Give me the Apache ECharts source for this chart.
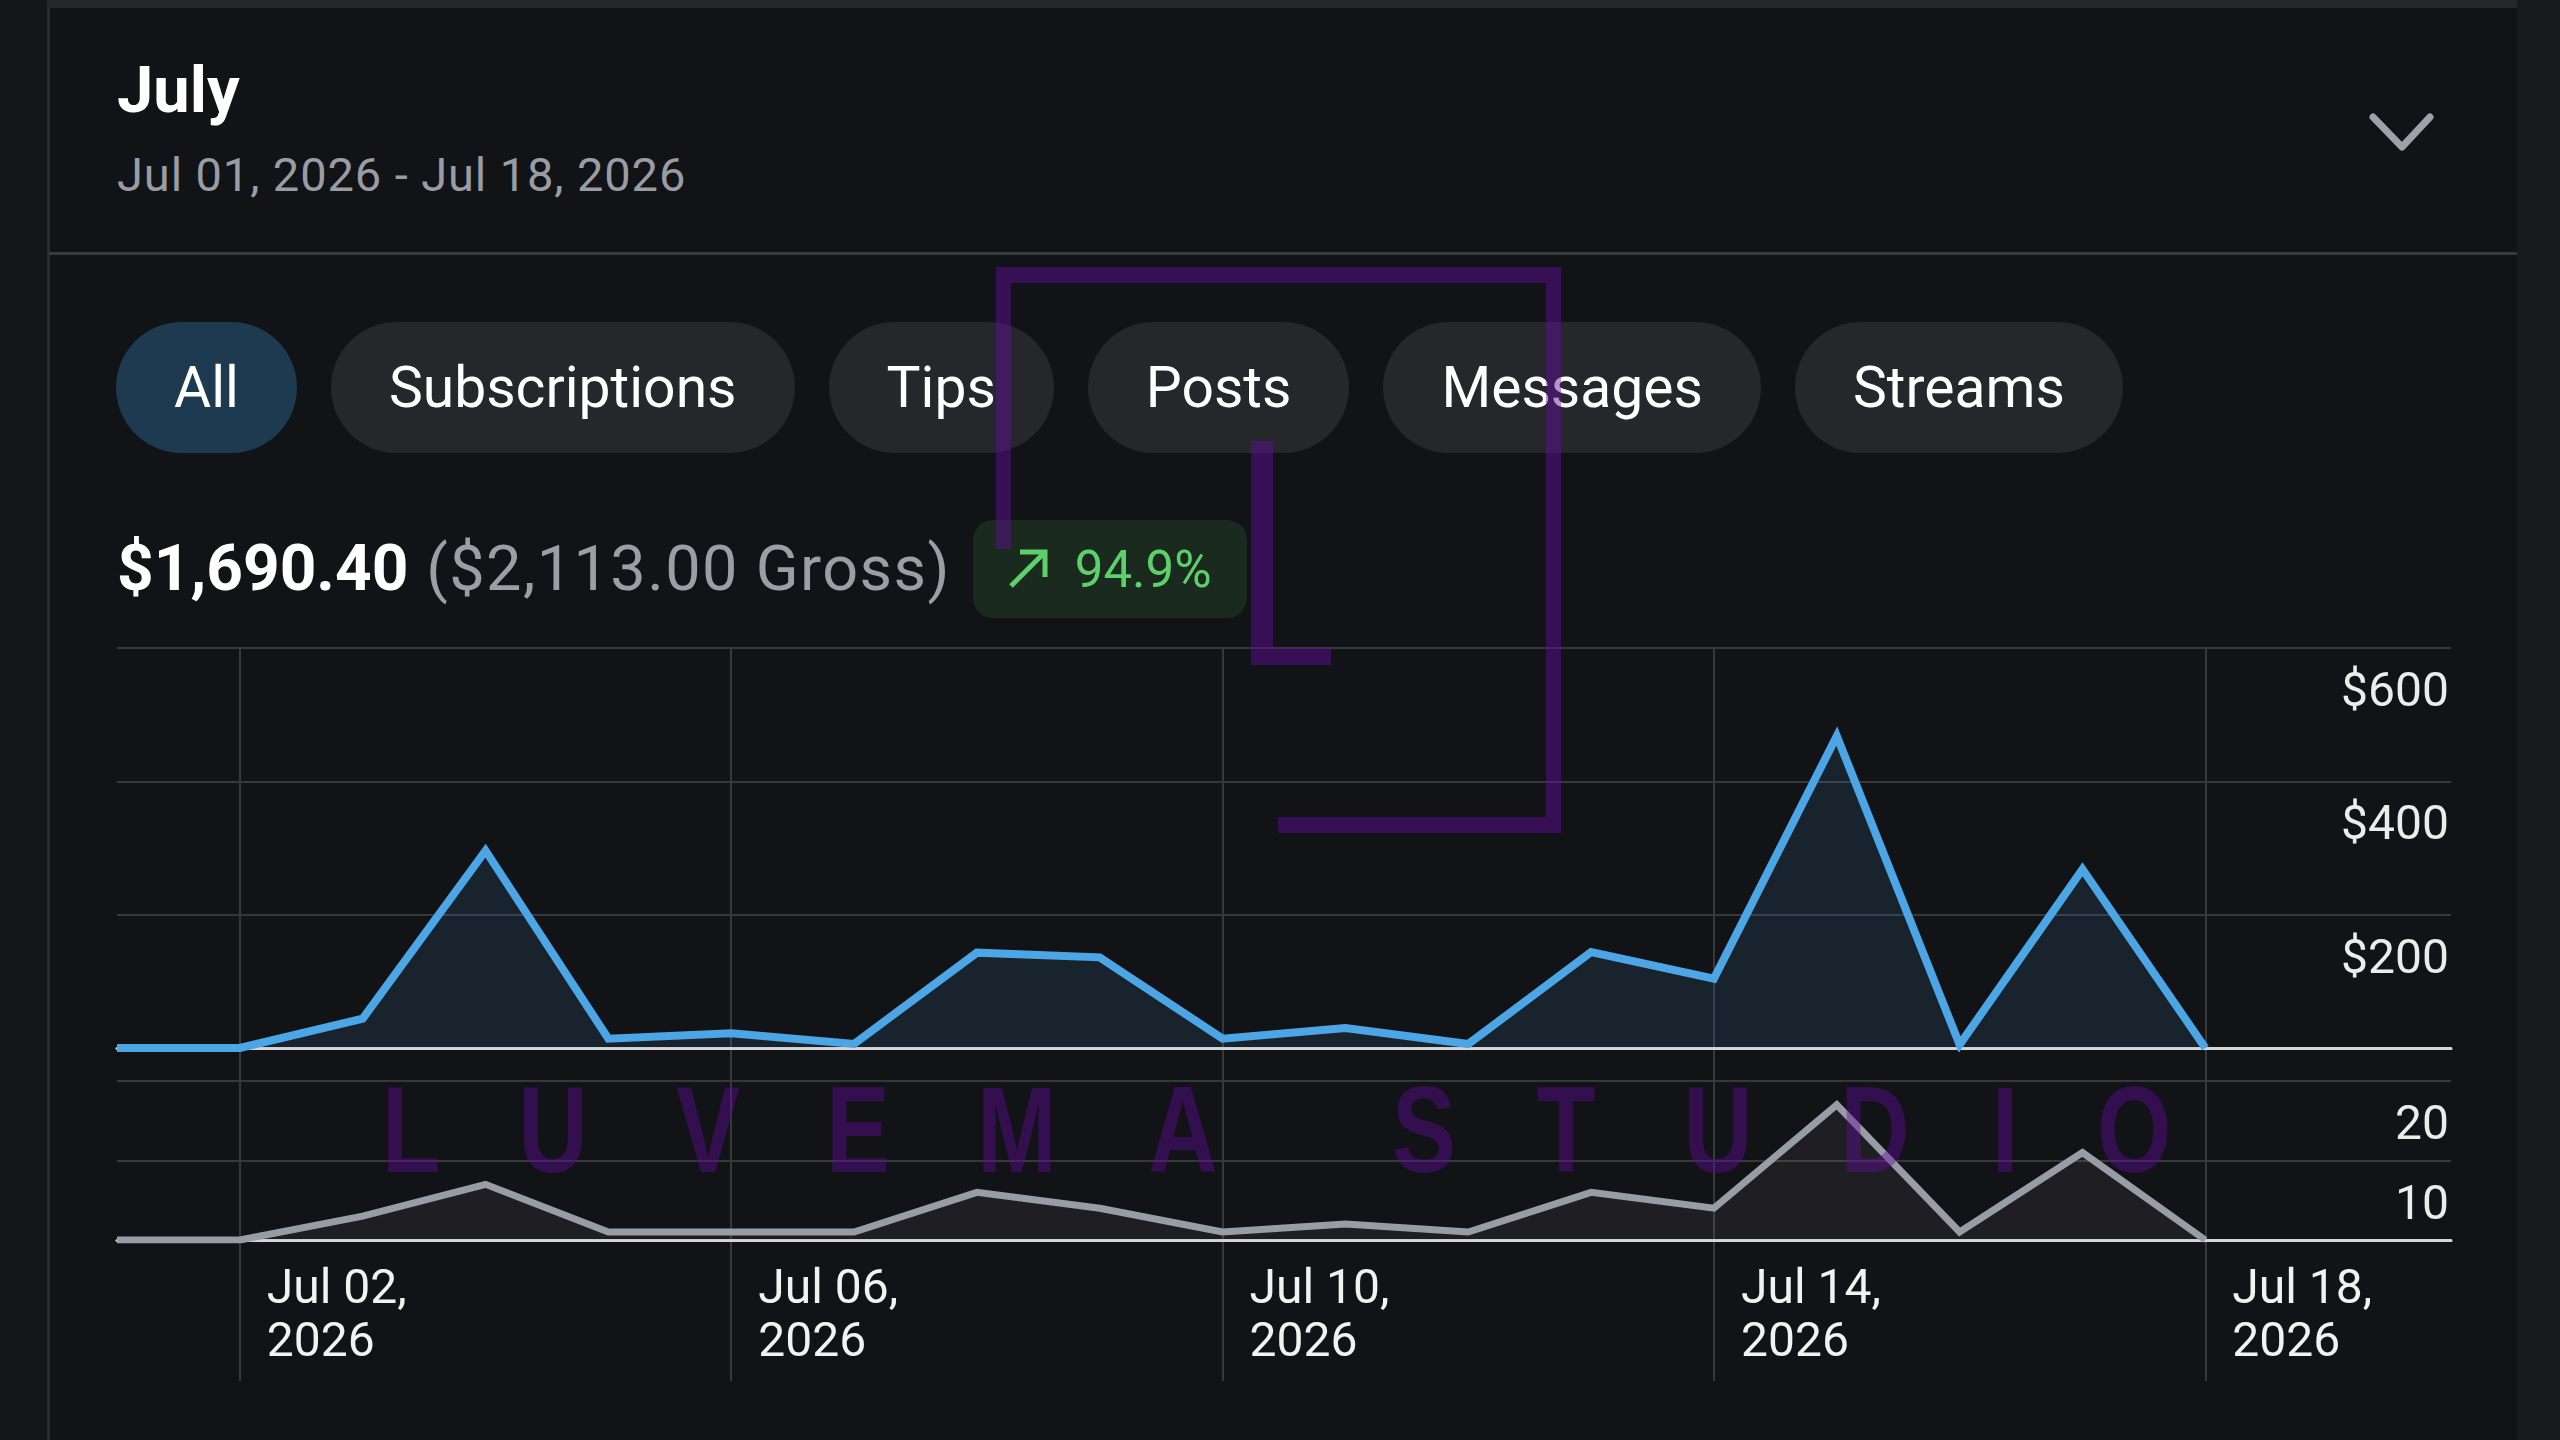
<!DOCTYPE html>
<html>
<head>
<meta charset="utf-8">
<script src="https://cdn.jsdelivr.net/npm/echarts@6/dist/echarts.min.js"></script>
<style>
  html, body { margin: 0; padding: 0; background: #121316; }
  #page { position: relative; width: 2560px; height: 1440px; overflow: hidden; background: #121316; font-family: Roboto, "Noto Sans", sans-serif; }
  .strip-top { position: absolute; left: 0; top: 0; width: 2517px; height: 8px; background: #26272a; }
  .strip-left { position: absolute; left: 0; top: 0; width: 47px; height: 1440px; background: #151619; }
  .strip-left-line { position: absolute; left: 47px; top: 8px; width: 3px; height: 1432px; background: #2b2c30; }
  .strip-right { position: absolute; left: 2517px; top: 0; width: 43px; height: 1440px; background: #191a1d; }
  .title { position: absolute; left: 117px; top: 58px; font-size: 65px; line-height: 65px; font-weight: 700; color: #ffffff; }
  .range { position: absolute; left: 117px; top: 151px; font-size: 47px; line-height: 47px; color: #9a9ca3; letter-spacing: 0.9px; }
  .chev { position: absolute; left: 2368px; top: 112px; }
  .sep { position: absolute; left: 49px; top: 252px; width: 2468px; height: 3px; background: #38393d; }
  .pills { position: absolute; left: 116px; top: 322px; display: flex; gap: 34px; }
  .pill { height: 131px; line-height: 131px; padding: 0 58px; border-radius: 66px; background: #25272b; color: #ffffff; font-size: 57px; white-space: nowrap; }
  .pill.on { background: #1d3a50; }
  .summary { position: absolute; left: 117px; top: 520px; height: 98px; display: flex; align-items: center; white-space: nowrap; }
  .amount { font-size: 64px; font-weight: 700; color: #ffffff; line-height: 98px; }
  .gross { font-size: 63px; color: #9b9ea5; line-height: 98px; margin-left: 18px; letter-spacing: 1.4px; }
  .badge { margin-left: 22px; height: 98px; padding: 0 35px; border-radius: 20px; background: #1a2a1e; display: flex; align-items: center; color: #5dd06c; font-size: 51px; }
  .badge svg { margin-right: 27px; }
  #chart { position: absolute; left: 0; top: 0; width: 2560px; height: 1440px; }
  .mark { position: absolute; background: rgba(100, 10, 160, 0.45); z-index: 10; }
  .wm { position: absolute; z-index: 10; top: 1060px; font-family: "Liberation Sans", Arial, sans-serif; font-weight: 700; font-size: 123px; line-height: 140px; color: rgba(100, 10, 160, 0.42); transform: translateX(-50%) scaleX(0.78); }
</style>
</head>
<body>
<div id="page">
  <div class="strip-top"></div>
  <div class="strip-left"></div>
  <div class="strip-left-line"></div>
  <div class="strip-right"></div>

  <div class="title">July</div>
  <div class="range">Jul 01, 2026 - Jul 18, 2026</div>
  <svg class="chev" width="70" height="45"><polyline points="5,5 34,35 62,5" fill="none" stroke="#9ea1a8" stroke-width="7" stroke-linecap="round" stroke-linejoin="round"/></svg>
  <div class="sep"></div>

  <div class="pills" id="pills"></div>

  <div class="summary">
    <span class="amount">$1,690.40</span>
    <span class="gross">($2,113.00 Gross)</span>
    <div class="badge">
      <svg width="40" height="40"><polyline points="3,37 37,3" stroke="#5dd06c" stroke-width="5" fill="none"/><polyline points="12,3 37,3 37,28" stroke="#5dd06c" stroke-width="5" fill="none"/></svg>
      <span>94.9%</span>
    </div>
  </div>

  <div id="chart"></div>

  <div class="mark" style="left:996px;top:267px;width:565px;height:16px"></div>
  <div class="mark" style="left:996px;top:283px;width:15px;height:266px"></div>
  <div class="mark" style="left:1546px;top:283px;width:15px;height:550px"></div>
  <div class="mark" style="left:1278px;top:817px;width:268px;height:16px"></div>
  <div class="mark" style="left:1251px;top:441px;width:22px;height:224px"></div>
  <div class="mark" style="left:1273px;top:648px;width:58px;height:17px"></div>
  <div id="wm"></div>
</div>

<script>
// tabs above the chart
const tabs = ['All', 'Subscriptions', 'Tips', 'Posts', 'Messages', 'Streams']

// x axis: Jul 01 .. Jul 20, data runs to Jul 18
const year = '2026'
const days = ['Jul 01', 'Jul 02', 'Jul 03', 'Jul 04', 'Jul 05', 'Jul 06', 'Jul 07', 'Jul 08', 'Jul 09', 'Jul 10',
  'Jul 11', 'Jul 12', 'Jul 13', 'Jul 14', 'Jul 15', 'Jul 16', 'Jul 17', 'Jul 18', 'Jul 19', 'Jul 20']
const labelDays = ['Jul 02', 'Jul 06', 'Jul 10', 'Jul 14', 'Jul 18']

// earnings per day ($) and number of sales per day
const earnings = [0, 0, 44, 296, 14, 22, 6, 143, 136, 14, 30, 6, 144, 104, 468, 5, 268, 0]
const sales = [0, 0, 3, 7, 1, 1, 1, 6, 4, 1, 2, 1, 6, 4, 17, 1, 11, 0]

// y ticks
const earningsTicks = [0, 200, 400, 600]
const salesTicks = [0, 10, 20]

// watermark letters and their centre x
const wmLetters = ['L', 'U', 'V', 'E', 'M', 'A', 'S', 'T', 'U', 'D', 'I', 'O']
const wmCenters = [411, 553, 708, 858, 1017, 1183, 1424, 1566, 1718, 1875, 2005, 2134]

const pillsEl = document.getElementById('pills')
tabs.forEach((t, i) => {
  const d = document.createElement('div')
  d.className = 'pill' + (i === 0 ? ' on' : '')
  d.textContent = t
  pillsEl.appendChild(d)
})

const wmEl = document.getElementById('wm')
wmLetters.forEach((ch, i) => {
  const s = document.createElement('div')
  s.className = 'wm'
  s.style.left = wmCenters[i] + 'px'
  s.textContent = ch
  wmEl.appendChild(s)
})

const gridColor = '#36383c'
const isLabelDay = (i, v) => labelDays.indexOf(v) >= 0

const yAxisBase = (gridIndex, ticks, fmt) => ({
  type: 'value',
  gridIndex: gridIndex,
  position: 'right',
  min: ticks[0],
  max: ticks[ticks.length - 1],
  interval: ticks[1] - ticks[0],
  axisLine: { show: false },
  axisTick: { show: false },
  splitLine: { lineStyle: { color: gridColor, width: 2 } },
  axisLabel: {
    inside: true,
    margin: 2,
    showMinLabel: false,
    formatter: fmt,
    verticalAlign: 'top',
    padding: [22, 0, 0, 0],
    lineHeight: 48,
    fontSize: 48,
    fontFamily: 'Roboto',
    color: '#ececec'
  }
})

const chart = echarts.init(document.getElementById('chart'))
chart.setOption({
  animation: false,
  grid: [
    { left: 117, right: 109, top: 648, height: 400 },
    { left: 117, right: 109, top: 1081, height: 159 },
    { left: 117, right: 109, top: 648, height: 733 } // vertical day lines only
  ],
  xAxis: [
    {
      type: 'category', gridIndex: 0, data: days, boundaryGap: false,
      axisLine: { lineStyle: { color: '#d6d6d8', width: 3 } },
      axisTick: { show: false }, axisLabel: { show: false }, splitLine: { show: false }
    },
    {
      type: 'category', gridIndex: 1, data: days, boundaryGap: false,
      axisLine: { lineStyle: { color: '#d6d6d8', width: 3 } },
      axisTick: { show: false }, splitLine: { show: false },
      axisLabel: {
        interval: isLabelDay,
        formatter: v => v + ',\n' + year,
        align: 'left',
        padding: [0, 0, 0, 27],
        margin: 24,
        fontSize: 48,
        lineHeight: 53,
        fontFamily: 'Roboto',
        color: '#f2f2f2'
      }
    },
    {
      type: 'category', gridIndex: 2, data: days, boundaryGap: false,
      axisLine: { show: false }, axisTick: { show: false }, axisLabel: { show: false },
      splitLine: { show: true, interval: isLabelDay, lineStyle: { color: gridColor, width: 2 } }
    }
  ],
  yAxis: [
    yAxisBase(0, earningsTicks, v => '$' + v),
    yAxisBase(1, salesTicks, v => String(v)),
    { type: 'value', gridIndex: 2, show: false }
  ],
  series: [
    {
      name: 'Earnings',
      type: 'line',
      xAxisIndex: 0,
      yAxisIndex: 0,
      data: earnings,
      symbol: 'none',
      lineStyle: { color: '#4ca6e6', width: 8, join: 'miter' },
      areaStyle: { color: 'rgba(75,163,227,0.17)' }
    },
    {
      name: 'Sales',
      type: 'line',
      xAxisIndex: 1,
      yAxisIndex: 1,
      data: sales,
      symbol: 'none',
      lineStyle: { color: '#989ca4', width: 7, join: 'miter' },
      areaStyle: { color: 'rgba(139,142,149,0.15)' }
    }
  ]
})
</script>
</body>
</html>
